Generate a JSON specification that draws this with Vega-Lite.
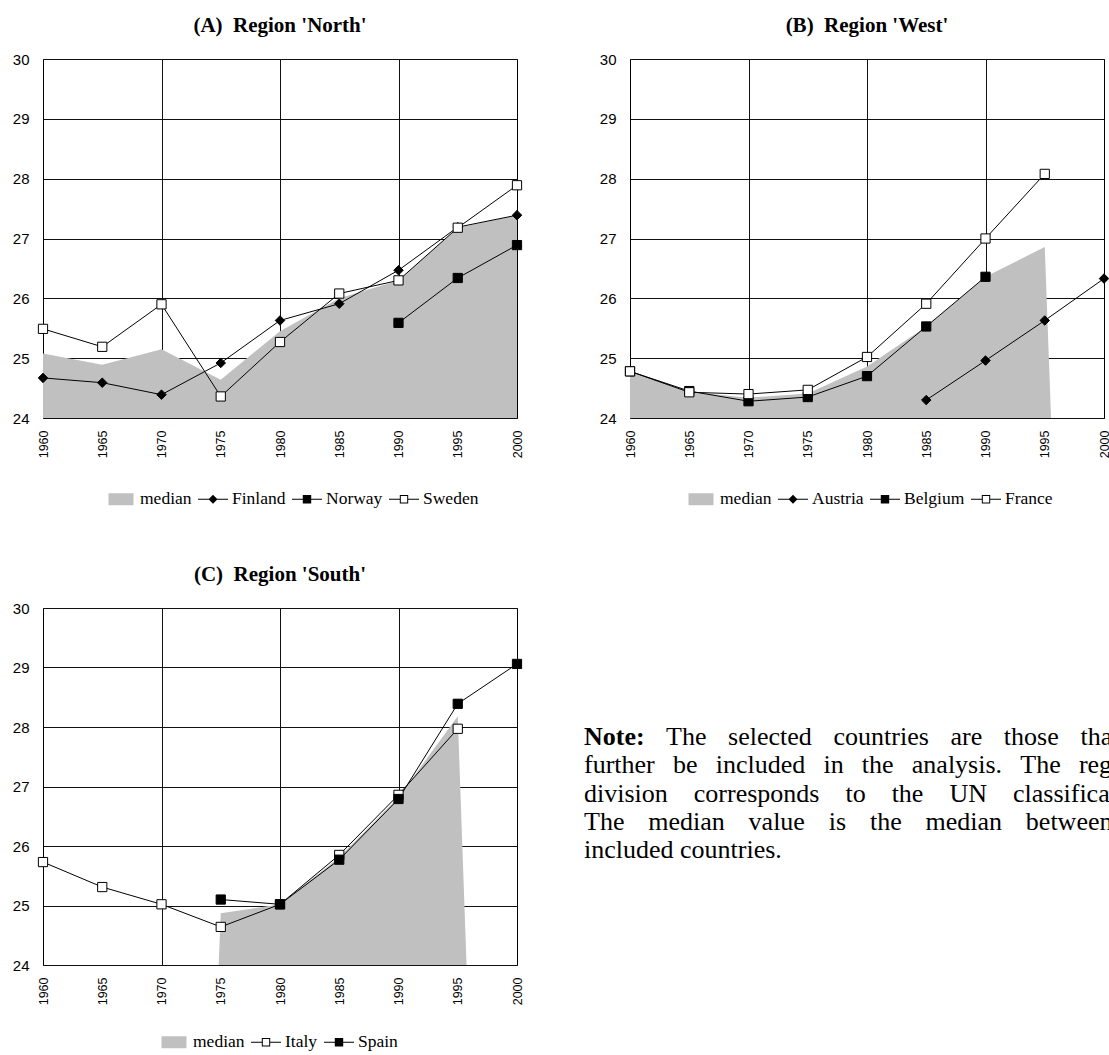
{
  "$schema": "https://vega.github.io/schema/vega-lite/v6.json",
  "padding": {"left": 11, "top": 14, "right": 0, "bottom": 0},
  "datasets": {
    "north": [
      {"series": "median", "year": 1960, "value": 25.08}, {"series": "median", "year": 1965, "value": 24.89},
      {"series": "median", "year": 1970, "value": 25.15}, {"series": "median", "year": 1975, "value": 24.64},
      {"series": "median", "year": 1980, "value": 25.45}, {"series": "median", "year": 1985, "value": 26.0},
      {"series": "median", "year": 1990, "value": 26.3}, {"series": "median", "year": 1995, "value": 27.18},
      {"series": "median", "year": 2000, "value": 27.39},
      {"series": "Finland", "year": 1960, "value": 24.67}, {"series": "Finland", "year": 1965, "value": 24.59},
      {"series": "Finland", "year": 1970, "value": 24.39}, {"series": "Finland", "year": 1975, "value": 24.92},
      {"series": "Finland", "year": 1980, "value": 25.63}, {"series": "Finland", "year": 1985, "value": 25.91},
      {"series": "Finland", "year": 1990, "value": 26.47}, {"series": "Finland", "year": 1995, "value": 27.19},
      {"series": "Finland", "year": 2000, "value": 27.39},
      {"series": "Norway", "year": 1990, "value": 25.59}, {"series": "Norway", "year": 1995, "value": 26.34},
      {"series": "Norway", "year": 2000, "value": 26.89},
      {"series": "Sweden", "year": 1960, "value": 25.49}, {"series": "Sweden", "year": 1965, "value": 25.19},
      {"series": "Sweden", "year": 1970, "value": 25.9}, {"series": "Sweden", "year": 1975, "value": 24.36},
      {"series": "Sweden", "year": 1980, "value": 25.27}, {"series": "Sweden", "year": 1985, "value": 26.08},
      {"series": "Sweden", "year": 1990, "value": 26.3}, {"series": "Sweden", "year": 1995, "value": 27.18},
      {"series": "Sweden", "year": 2000, "value": 27.89}
    ],
    "west": [
      {"series": "median", "year": 1960, "value": 24.78}, {"series": "median", "year": 1965, "value": 24.44},
      {"series": "median", "year": 1970, "value": 24.34}, {"series": "median", "year": 1975, "value": 24.41},
      {"series": "median", "year": 1980, "value": 24.86}, {"series": "median", "year": 1985, "value": 25.53},
      {"series": "median", "year": 1990, "value": 26.36}, {"series": "median", "year": 1995, "value": 26.86},
      {"series": "median", "year": 2000, "value": 0},
      {"series": "Austria", "year": 1985, "value": 24.3}, {"series": "Austria", "year": 1990, "value": 24.96},
      {"series": "Austria", "year": 1995, "value": 25.63}, {"series": "Austria", "year": 2000, "value": 26.33},
      {"series": "Belgium", "year": 1960, "value": 24.78}, {"series": "Belgium", "year": 1965, "value": 24.45},
      {"series": "Belgium", "year": 1970, "value": 24.28}, {"series": "Belgium", "year": 1975, "value": 24.35},
      {"series": "Belgium", "year": 1980, "value": 24.7}, {"series": "Belgium", "year": 1985, "value": 25.53},
      {"series": "Belgium", "year": 1990, "value": 26.36},
      {"series": "France", "year": 1960, "value": 24.78}, {"series": "France", "year": 1965, "value": 24.43},
      {"series": "France", "year": 1970, "value": 24.4}, {"series": "France", "year": 1975, "value": 24.47},
      {"series": "France", "year": 1980, "value": 25.02}, {"series": "France", "year": 1985, "value": 25.91},
      {"series": "France", "year": 1990, "value": 27.0}, {"series": "France", "year": 1995, "value": 28.08}
    ],
    "south": [
      {"series": "median", "year": 1960, "value": 0}, {"series": "median", "year": 1965, "value": 0},
      {"series": "median", "year": 1970, "value": 0}, {"series": "median", "year": 1975, "value": 24.87},
      {"series": "median", "year": 1980, "value": 25.02}, {"series": "median", "year": 1985, "value": 25.81},
      {"series": "median", "year": 1990, "value": 26.82}, {"series": "median", "year": 1995, "value": 28.18},
      {"series": "median", "year": 2000, "value": 0},
      {"series": "Italy", "year": 1960, "value": 25.73}, {"series": "Italy", "year": 1965, "value": 25.31},
      {"series": "Italy", "year": 1970, "value": 25.02}, {"series": "Italy", "year": 1975, "value": 24.64},
      {"series": "Italy", "year": 1980, "value": 25.02}, {"series": "Italy", "year": 1985, "value": 25.85},
      {"series": "Italy", "year": 1990, "value": 26.86}, {"series": "Italy", "year": 1995, "value": 27.97},
      {"series": "Spain", "year": 1975, "value": 25.1}, {"series": "Spain", "year": 1980, "value": 25.02},
      {"series": "Spain", "year": 1985, "value": 25.77}, {"series": "Spain", "year": 1990, "value": 26.79},
      {"series": "Spain", "year": 1995, "value": 28.39}, {"series": "Spain", "year": 2000, "value": 29.06}
    ],
    "note": [
      {"line": 1, "part": "head", "text": "Note:"},
      {"line": 1, "part": "lead", "text": "The\u2002\u2004selected\u2002\u2004countries\u2002\u2004are\u2002\u2004those\u2002\u2004that\u2002\u2004will"},
      {"line": 2, "part": "body", "text": "further\u2002\u2009be\u2002\u2009included\u2002\u2009in\u2002\u2009the\u2002\u2009analysis.\u2002\u2009The\u2002\u2009regional"},
      {"line": 3, "part": "body", "text": "division\u2003corresponds\u2003to\u2003the\u2003UN\u2003classification."},
      {"line": 4, "part": "body", "text": "The\u2002\u2005\u2006median\u2002\u2005\u2006value\u2002\u2005\u2006is\u2002\u2005\u2006the\u2002\u2005\u2006median\u2002\u2005\u2006between\u2002\u2005\u2006the"},
      {"line": 5, "part": "body", "text": "included countries."}
    ]
  },
  "resolve": {"scale": {"fill": "independent", "shape": "independent"}, "legend": {"fill": "independent", "shape": "independent"}},
  "spacing": 54,
  "vconcat": [
    {
      "bounds": "flush",
      "spacing": 113,
      "resolve": {"scale": {"fill": "independent", "shape": "independent"}, "legend": {"fill": "independent", "shape": "independent"}},
      "hconcat": [
        {
          "title": "(A)\u00a0 Region 'North'",
          "width": 474, "height": 359,
          "data": {"name": "north"},
          "encoding": {
            "x": {"field": "year", "type": "quantitative", "scale": {"domain": [1960, 2000], "nice": false, "zero": false}, "title": null,
              "axis": {"values": [1960, 1965, 1970, 1975, 1980, 1985, 1990, 1995, 2000], "format": "d",
                "gridOpacity": {"condition": {"test": "datum.value === 1970 || datum.value === 1980 || datum.value === 1990", "value": 1}, "value": 0}}},
            "y": {"field": "value", "type": "quantitative", "scale": {"domain": [24, 30], "nice": false, "zero": false}, "title": null,
              "axis": {"values": [24, 25, 26, 27, 28, 29, 30], "format": "d"}}
          },
          "layer": [
            {
              "transform": [{"filter": "datum.series === 'median'"}],
              "mark": {"type": "area", "clip": true, "opacity": 1},
              "encoding": {
                "fill": {"field": "series", "type": "nominal",
                  "scale": {"domain": ["median", "Finland", "Norway", "Sweden"], "range": ["#c0c0c0", "black", "black", "black"]},
                  "legend": {"orient": "none", "legendX": 68, "legendY": 430, "direction": "horizontal", "symbolOpacity": 1}}
              }
            },
            {"transform": [{"filter": "datum.series !== 'median'"}], "mark": {"type": "line", "stroke": "black", "strokeWidth": 1}, "encoding": {"detail": {"field": "series", "type": "nominal"}}},
            {"transform": [{"filter": "datum.series === 'Finland'"}], "mark": {"type": "point", "shape": "diamond", "filled": true, "fill": "black", "stroke": "black", "strokeWidth": 1, "opacity": 1, "size": 90}},
            {"transform": [{"filter": "datum.series === 'Norway'"}], "mark": {"type": "point", "shape": "square", "filled": true, "fill": "black", "stroke": "black", "strokeWidth": 1, "opacity": 1, "size": 85}},
            {"transform": [{"filter": "datum.series === 'Sweden'"}], "mark": {"type": "point", "shape": "square", "filled": true, "fill": "white", "stroke": "black", "strokeWidth": 1, "opacity": 1, "size": 85}},
            {
              "mark": {"type": "point", "filled": true, "opacity": 0, "clip": true},
              "encoding": {
                "fill": {"field": "series", "type": "nominal", "legend": null},
                "shape": {"field": "series", "type": "nominal", "legend": null,
                  "scale": {"domain": ["median", "Finland", "Norway", "Sweden"],
                    "range": ["M-1.25,-0.6H1.25V0.6H-1.25Z",
                              "M-1.5,-0.05H1.5V0.05H-1.5ZM0,-0.45L0.45,0L0,0.45L-0.45,0Z",
                              "M-1.5,-0.05H1.5V0.05H-1.5ZM-0.42,-0.42H0.42V0.42H-0.42Z",
                              "M-1.5,-0.05H-0.42V0.05H-1.5ZM0.42,-0.05H1.5V0.05H0.42ZM-0.42,-0.42H0.42V0.42H-0.42ZM-0.32,-0.32V0.32H0.32V-0.32Z"]}}
              }
            }
          ]
        },
        {
          "title": "(B)\u00a0 Region 'West'",
          "width": 474, "height": 359,
          "data": {"name": "west"},
          "encoding": {
            "x": {"field": "year", "type": "quantitative", "scale": {"domain": [1960, 2000], "nice": false, "zero": false}, "title": null,
              "axis": {"values": [1960, 1965, 1970, 1975, 1980, 1985, 1990, 1995, 2000], "format": "d",
                "gridOpacity": {"condition": {"test": "datum.value === 1970 || datum.value === 1980 || datum.value === 1990", "value": 1}, "value": 0}}},
            "y": {"field": "value", "type": "quantitative", "scale": {"domain": [24, 30], "nice": false, "zero": false}, "title": null,
              "axis": {"values": [24, 25, 26, 27, 28, 29, 30], "format": "d"}}
          },
          "layer": [
            {
              "transform": [{"filter": "datum.series === 'median'"}],
              "mark": {"type": "area", "clip": true, "opacity": 1},
              "encoding": {
                "fill": {"field": "series", "type": "nominal",
                  "scale": {"domain": ["median", "Austria", "Belgium", "France"], "range": ["#c0c0c0", "black", "black", "black"]},
                  "legend": {"orient": "none", "legendX": 61, "legendY": 430, "direction": "horizontal", "symbolOpacity": 1}}
              }
            },
            {"transform": [{"filter": "datum.series !== 'median'"}], "mark": {"type": "line", "stroke": "black", "strokeWidth": 1}, "encoding": {"detail": {"field": "series", "type": "nominal"}}},
            {"transform": [{"filter": "datum.series === 'Austria'"}], "mark": {"type": "point", "shape": "diamond", "filled": true, "fill": "black", "stroke": "black", "strokeWidth": 1, "opacity": 1, "size": 90}},
            {"transform": [{"filter": "datum.series === 'Belgium'"}], "mark": {"type": "point", "shape": "square", "filled": true, "fill": "black", "stroke": "black", "strokeWidth": 1, "opacity": 1, "size": 85}},
            {"transform": [{"filter": "datum.series === 'France'"}], "mark": {"type": "point", "shape": "square", "filled": true, "fill": "white", "stroke": "black", "strokeWidth": 1, "opacity": 1, "size": 85}},
            {
              "mark": {"type": "point", "filled": true, "opacity": 0, "clip": true},
              "encoding": {
                "fill": {"field": "series", "type": "nominal", "legend": null},
                "shape": {"field": "series", "type": "nominal", "legend": null,
                  "scale": {"domain": ["median", "Austria", "Belgium", "France"],
                    "range": ["M-1.25,-0.6H1.25V0.6H-1.25Z",
                              "M-1.5,-0.05H1.5V0.05H-1.5ZM0,-0.45L0.45,0L0,0.45L-0.45,0Z",
                              "M-1.5,-0.05H1.5V0.05H-1.5ZM-0.42,-0.42H0.42V0.42H-0.42Z",
                              "M-1.5,-0.05H-0.42V0.05H-1.5ZM0.42,-0.05H1.5V0.05H0.42ZM-0.42,-0.42H0.42V0.42H-0.42ZM-0.32,-0.32V0.32H0.32V-0.32Z"]}}
              }
            }
          ]
        }
      ]
    },
    {
      "bounds": "flush",
      "spacing": 67,
      "resolve": {"scale": {"fill": "independent", "shape": "independent"}, "legend": {"fill": "independent", "shape": "independent"}},
      "hconcat": [
        {
          "title": "(C)\u00a0 Region 'South'",
          "width": 474, "height": 357,
          "data": {"name": "south"},
          "encoding": {
            "x": {"field": "year", "type": "quantitative", "scale": {"domain": [1960, 2000], "nice": false, "zero": false}, "title": null,
              "axis": {"values": [1960, 1965, 1970, 1975, 1980, 1985, 1990, 1995, 2000], "format": "d",
                "gridOpacity": {"condition": {"test": "datum.value === 1970 || datum.value === 1980 || datum.value === 1990", "value": 1}, "value": 0}}},
            "y": {"field": "value", "type": "quantitative", "scale": {"domain": [24, 30], "nice": false, "zero": false}, "title": null,
              "axis": {"values": [24, 25, 26, 27, 28, 29, 30], "format": "d"}}
          },
          "layer": [
            {
              "transform": [{"filter": "datum.series === 'median'"}],
              "mark": {"type": "area", "clip": true, "opacity": 1},
              "encoding": {
                "fill": {"field": "series", "type": "nominal",
                  "scale": {"domain": ["median", "Italy", "Spain"], "range": ["#c0c0c0", "black", "black"]},
                  "legend": {"orient": "none", "legendX": 121, "legendY": 424, "direction": "horizontal", "symbolOpacity": 1}}
              }
            },
            {"transform": [{"filter": "datum.series !== 'median'"}], "mark": {"type": "line", "stroke": "black", "strokeWidth": 1}, "encoding": {"detail": {"field": "series", "type": "nominal"}}},
            {"transform": [{"filter": "datum.series === 'Italy'"}], "mark": {"type": "point", "shape": "square", "filled": true, "fill": "white", "stroke": "black", "strokeWidth": 1, "opacity": 1, "size": 85}},
            {"transform": [{"filter": "datum.series === 'Spain'"}], "mark": {"type": "point", "shape": "square", "filled": true, "fill": "black", "stroke": "black", "strokeWidth": 1, "opacity": 1, "size": 85}},
            {
              "mark": {"type": "point", "filled": true, "opacity": 0, "clip": true},
              "encoding": {
                "fill": {"field": "series", "type": "nominal", "legend": null},
                "shape": {"field": "series", "type": "nominal", "legend": null,
                  "scale": {"domain": ["median", "Italy", "Spain"],
                    "range": ["M-1.25,-0.6H1.25V0.6H-1.25Z",
                              "M-1.5,-0.05H-0.42V0.05H-1.5ZM0.42,-0.05H1.5V0.05H0.42ZM-0.42,-0.42H0.42V0.42H-0.42ZM-0.32,-0.32V0.32H0.32V-0.32Z",
                              "M-1.5,-0.05H1.5V0.05H-1.5ZM-0.42,-0.42H0.42V0.42H-0.42Z"]}}
              }
            }
          ]
        },
        {
          "width": 526, "height": 357,
          "view": {"stroke": null},
          "data": {"name": "note"},
          "encoding": {
            "y": {"field": "line", "type": "quantitative", "scale": {"domain": [-3.56, 9.05], "reverse": true, "nice": false, "zero": false}, "axis": null},
            "text": {"field": "text", "type": "nominal"}
          },
          "layer": [
            {"transform": [{"filter": "datum.part === 'head'"}],
             "mark": {"type": "text", "x": 0, "align": "left", "baseline": "middle", "font": "Liberation Serif", "fontSize": 26, "fontWeight": "bold", "color": "black", "clip": true}},
            {"transform": [{"filter": "datum.part === 'lead'"}],
             "mark": {"type": "text", "x": 0, "dx": 82, "align": "left", "baseline": "middle", "font": "Liberation Serif", "fontSize": 26, "color": "black", "clip": true}},
            {"transform": [{"filter": "datum.part === 'body'"}],
             "mark": {"type": "text", "x": 0, "align": "left", "baseline": "middle", "font": "Liberation Serif", "fontSize": 26, "color": "black", "clip": true}}
          ]
        }
      ]
    }
  ],
  "config": {
    "view": {"stroke": "black", "strokeWidth": 1},
    "title": {"font": "Liberation Serif", "fontSize": 21, "fontWeight": "bold", "color": "black", "anchor": "middle", "baseline": "alphabetic", "offset": 16},
    "axisX": {
      "labelAngle": -90, "labelFont": "Liberation Sans", "labelFontSize": 12.5, "labelColor": "black",
      "labelPadding": 12, "ticks": false, "domain": false, "grid": true, "gridColor": "#111111", "gridWidth": 1,
      "labelFlush": false, "labelOverlap": false, "labelBound": false
    },
    "axisY": {
      "labelFont": "Liberation Sans", "labelFontSize": 15, "labelColor": "black",
      "labelPadding": 14, "ticks": false, "domain": false, "grid": true, "gridColor": "#111111", "gridWidth": 1,
      "labelFlush": false, "labelOverlap": false
    },
    "legend": {
      "title": null, "padding": 0,
      "labelFont": "Liberation Serif", "labelFontSize": 17.5, "labelColor": "black",
      "symbolSize": 400, "symbolStrokeWidth": 0, "labelOffset": 9, "columnPadding": 6
    }
  }
}
